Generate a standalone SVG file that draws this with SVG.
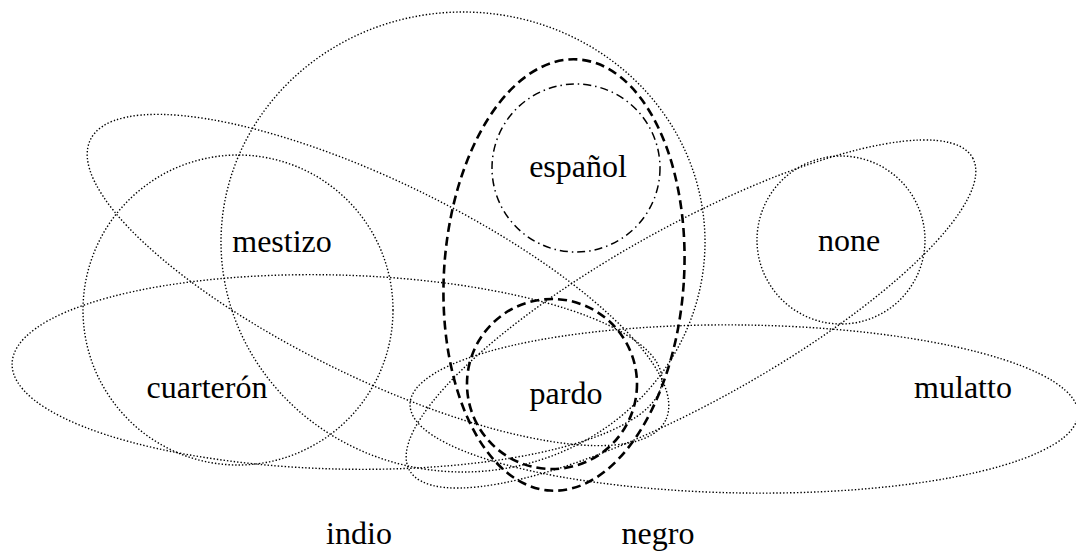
<svg xmlns="http://www.w3.org/2000/svg" width="1076" height="552" viewBox="0 0 1076 552">
<style>
.dot{fill:none;stroke:#000;stroke-width:1.4;stroke-dasharray:1.4 2}
.dash{fill:none;stroke:#000;stroke-width:2.6;stroke-dasharray:9 5}
.dashdot{fill:none;stroke:#000;stroke-width:1.5;stroke-dasharray:8 4 1.5 4}
text{font-family:"Liberation Serif","Times New Roman",serif;font-size:32px;fill:#000;text-anchor:middle}
</style>
<rect width="1076" height="552" fill="#fff"/>
<g id="shapes">
<g id="big"><ellipse class="dot" cx="463" cy="242" rx="242" ry="230"/></g>
<g id="leftcircle"><circle class="dot" cx="238" cy="310" r="155"/></g>
<g id="ellC"><ellipse class="dot" cx="0" cy="0" rx="320" ry="98" transform="translate(378 280) rotate(26)"/></g>
<g id="ellD"><ellipse class="dot" cx="0" cy="0" rx="322" ry="88" transform="translate(691 314) rotate(-29)"/></g>
<g id="ellE"><ellipse class="dot" cx="0" cy="0" rx="325" ry="97" transform="translate(337 372) rotate(1.5)"/></g>
<g id="ellF"><ellipse class="dot" cx="0" cy="0" rx="334" ry="84" transform="translate(744 409) rotate(0.8)"/></g>
<g id="none"><circle class="dot" cx="841" cy="240" r="84"/></g>
<g id="tall"><ellipse class="dash" cx="0" cy="0" rx="120" ry="216" transform="translate(564 275) rotate(3.7)"/></g>
<g id="espanol"><circle class="dashdot" cx="576" cy="168" r="84"/></g>
<g id="pardoc"><circle class="dash" cx="552" cy="384" r="85"/></g>
</g>
<g id="labels">
<text x="282" y="252">mestizo</text>
<text x="578" y="177">español</text>
<text x="849" y="251">none</text>
<text x="207" y="398">cuarterón</text>
<text x="566" y="404">pardo</text>
<text x="963" y="398">mulatto</text>
<text x="359" y="544">indio</text>
<text x="658" y="544">negro</text>
</g>
</svg>
